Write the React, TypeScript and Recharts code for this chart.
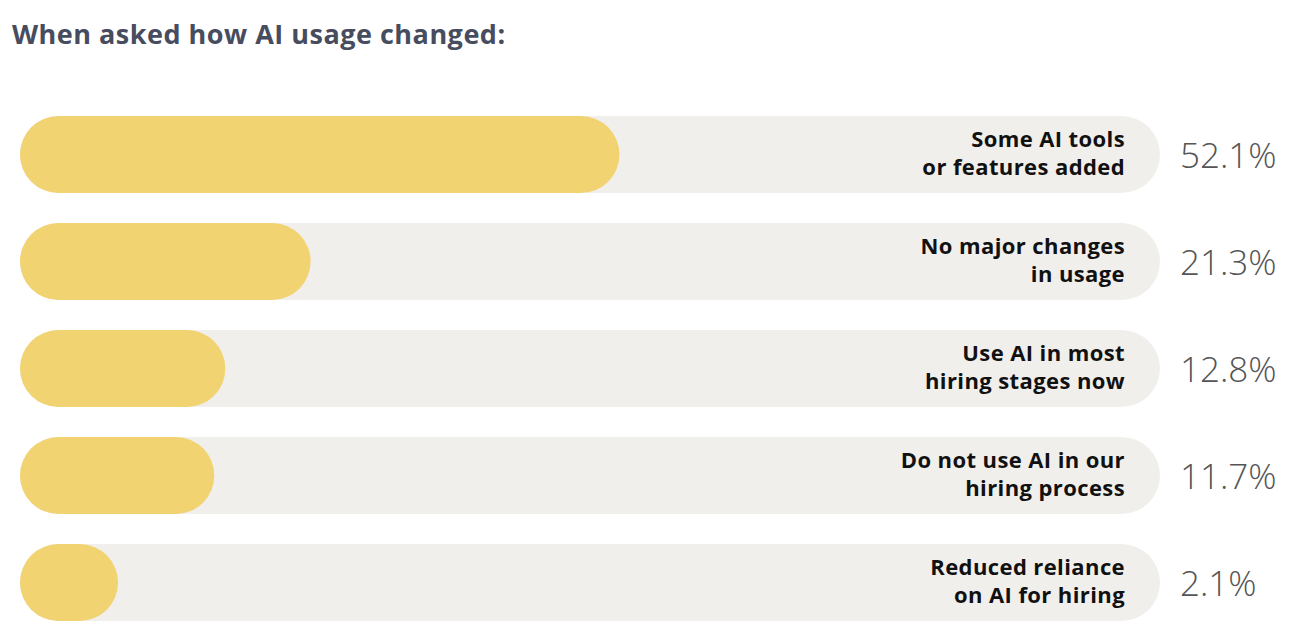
import { Bar, BarChart, XAxis, YAxis } from "recharts"

const categories = [
  ["Some AI tools", "or features added"],
  ["No major changes", "in usage"],
  ["Use AI in most", "hiring stages now"],
  ["Do not use AI in our", "hiring process"],
  ["Reduced reliance", "on AI for hiring"],
]
const shares = [52.1, 21.3, 12.8, 11.7, 2.1]

const data = categories.map((lines, i) => ({ label: lines.join(" "), value: shares[i] }))

const YELLOW = "#f2d372"
const TRACK = "#f1efec"
const FONT = "'Open Sans', 'Noto Sans', sans-serif"

// pill that starts at the bar origin and is one bar-height longer than the value
function PillBar(props: any) {
  const { x, y, width, height } = props
  if (x == null || y == null) return null
  return <rect x={x} y={y} width={Math.max(0, width) + height} height={height} rx={height / 2} ry={height / 2} fill={YELLOW} />
}

function Track(props: any) {
  const { x, y, width, height } = props
  return <rect x={x} y={y} width={width + height} height={height} rx={height / 2} ry={height / 2} fill={TRACK} />
}

function RowTick(props: any) {
  const { x, y, payload } = props
  const i = payload.index
  const lines = categories[i]
  const left = x - 8 // axis edge
  return (
    <g>
      <text x={left + 42} y={y} textAnchor="end" fontFamily={FONT} fontWeight={700} fontSize={22} letterSpacing={0.4} fill="#111">
        <tspan x={left + 42} dy={-8}>{lines[0]}</tspan>
        <tspan x={left + 42} dy={28}>{lines[1]}</tspan>
      </text>
      <text x={left + 97} y={y} dy={13} textAnchor="start" fontFamily={FONT} fontWeight={300} fontSize={35} fill="#555">
        {shares[i]}%
      </text>
    </g>
  )
}

export default function App() {
  return (
    <div style={{ position: "relative", margin: -8, width: 1300, height: 644, background: "#fff", fontFamily: FONT }}>
      <div style={{ position: "absolute", left: 12, top: 15, fontSize: 27, fontWeight: 700, color: "#474c5e", letterSpacing: 0.5 }}>
        When asked how AI usage changed:
      </div>
      <BarChart
        width={1300}
        height={644}
        data={data}
        layout="vertical"
        margin={{ top: 101, right: 0, bottom: 8, left: 20 }}
      >
        <XAxis type="number" domain={[0, 106]} hide />
        <YAxis
          type="category"
          dataKey="label"
          orientation="right"
          width={217}
          axisLine={false}
          tickLine={false}
          tick={<RowTick />}
        />
        <Bar dataKey="value" barSize={77} shape={<PillBar />} background={<Track />} isAnimationActive={false} />
      </BarChart>
    </div>
  )
}
